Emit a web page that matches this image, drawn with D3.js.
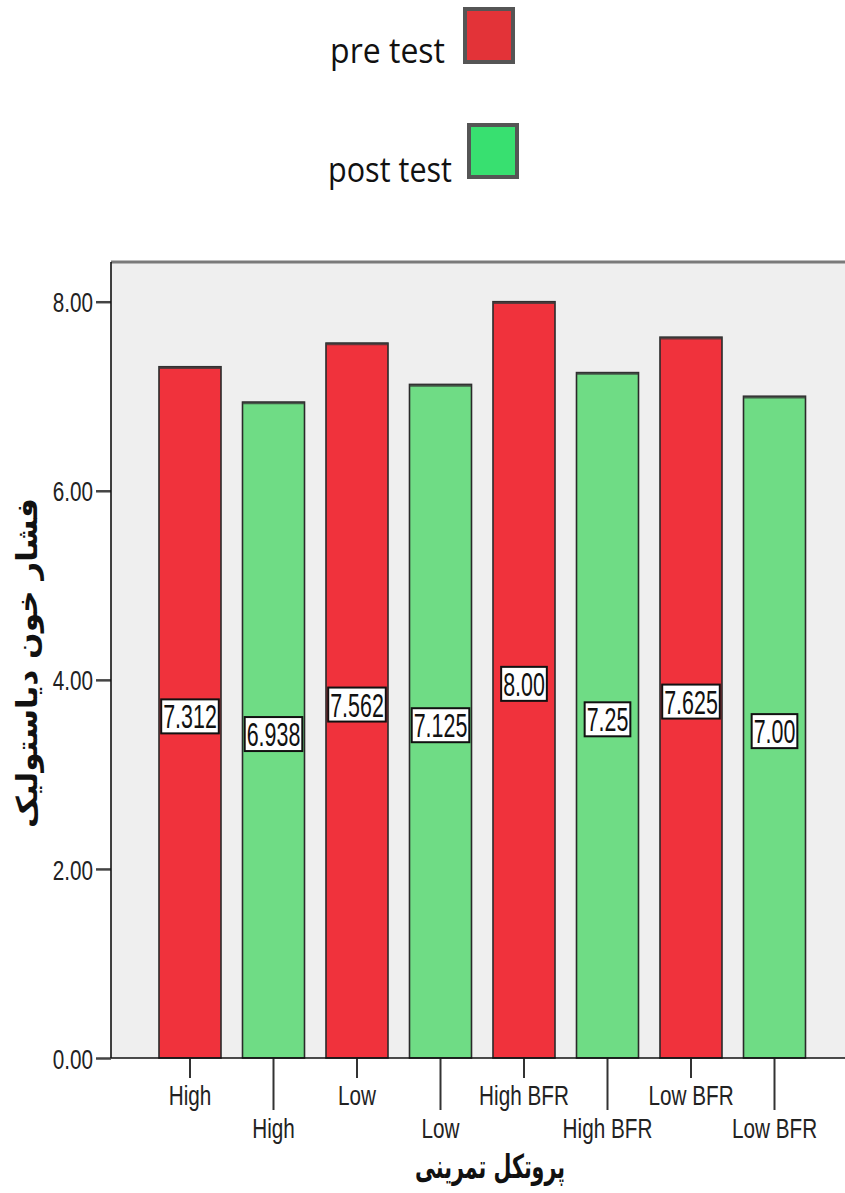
<!DOCTYPE html>
<html>
<head>
<meta charset="utf-8">
<script src="https://cdn.jsdelivr.net/npm/d3@7/dist/d3.min.js"></script>
<style>
  html, body { margin: 0; padding: 0; background: #ffffff; }
  svg { display: block; }
</style>
</head>
<body>
<svg id="chart" width="845" height="1193"></svg>
<script>
// Diastolic blood pressure by training protocol, pre and post test
const protocols = ["High", "Low", "High BFR", "Low BFR"];
const seriesNames = ["pre test", "post test"];
const preTest = [7.312, 7.562, 8.00, 7.625];
const postTest = [6.938, 7.125, 7.25, 7.00];
const preLabels = ["7.312", "7.562", "8.00", "7.625"];
const postLabels = ["6.938", "7.125", "7.25", "7.00"];
const yTicks = [0, 2, 4, 6, 8];
const yTitle = "فشار خون دیاستولیک";
const xTitle = "پروتکل تمرینی";

const colors = { "pre test": "#f0323c", "post test": "#6fdc85" };
const legendColors = { "pre test": "#e33338", "post test": "#38e070" };

// interleave: pre, post for each protocol
const bars = [];
protocols.forEach((p, i) => {
  bars.push({ idx: i * 2, protocol: p, series: "pre test", value: preTest[i], label: preLabels[i] });
  bars.push({ idx: i * 2 + 1, protocol: p, series: "post test", value: postTest[i], label: postLabels[i] });
});

const svg = d3.select("#chart");
const plot = { left: 111, right: 845, top: 262, bottom: 1058 };
const numFont = "'Liberation Sans', Arial, sans-serif";
const numSX = 0.74;

const x = d3.scaleBand()
  .domain(bars.map(d => d.idx))
  .range([148.25, 816.25])
  .paddingInner(0.2575)
  .paddingOuter(0.12875);

const y = d3.scaleLinear().domain([0, 8.42]).range([plot.bottom, plot.top]);

// plot background
svg.append("rect")
  .attr("x", plot.left).attr("y", plot.top)
  .attr("width", plot.right - plot.left).attr("height", plot.bottom - plot.top)
  .attr("fill", "#efefef");

// top frame line
svg.append("line")
  .attr("x1", plot.left).attr("x2", plot.right)
  .attr("y1", plot.top).attr("y2", plot.top)
  .attr("stroke", "#7a7a7a").attr("stroke-width", 3);

// bars
svg.append("g").selectAll("rect")
  .data(bars)
  .join("rect")
  .attr("x", d => x(d.idx))
  .attr("y", d => y(d.value))
  .attr("width", x.bandwidth())
  .attr("height", d => y(0) - y(d.value))
  .attr("fill", d => colors[d.series])
  .attr("stroke", "#2a2a2a")
  .attr("stroke-width", 1.6);

// bar top edges are a bit heavier
svg.append("g").selectAll("line")
  .data(bars)
  .join("line")
  .attr("x1", d => x(d.idx)).attr("x2", d => x(d.idx) + x.bandwidth())
  .attr("y1", d => y(d.value) + 1).attr("y2", d => y(d.value) + 1)
  .attr("stroke", "#3a3a3a").attr("stroke-width", 2.5).attr("opacity", 0.8);

// value labels in white boxes at mid height
const labelSX = 0.63;
const lbl = svg.append("g").selectAll("g")
  .data(bars)
  .join("g")
  .attr("transform", d => `translate(${x(d.idx) + x.bandwidth() / 2},${(y(d.value) + y(0)) / 2 + 4})`);
lbl.each(function(d) {
  const g = d3.select(this);
  const box = g.append("rect");
  const t = g.append("text")
    .attr("text-anchor", "middle")
    .attr("font-family", numFont)
    .attr("font-size", 34)
    .attr("fill", "#111")
    .attr("transform", `scale(${labelSX},1)`)
    .attr("y", 12)
    .text(d.label);
  const w = t.node().getComputedTextLength() * labelSX + 4;
  box.attr("x", -w / 2).attr("y", -17).attr("width", w).attr("height", 34)
    .attr("fill", "#ffffff").attr("stroke", "#111").attr("stroke-width", 2);
});

// y axis
const yAxis = svg.append("g")
  .attr("transform", `translate(${plot.left},0)`)
  .call(d3.axisLeft(y).tickValues(yTicks).tickFormat(d3.format(".2f")).tickSize(15).tickPadding(3));
yAxis.select(".domain").remove();
yAxis.selectAll(".tick line").attr("stroke", "#444").attr("stroke-width", 2.5);
yAxis.selectAll(".tick text")
  .attr("font-family", numFont).attr("font-size", 28).attr("fill", "#222")
  .attr("x", -18 / numSX).attr("dy", "0.36em")
  .attr("transform", `scale(${numSX},1)`);

// x axis: pre test labels on the first row, post test on the second
const fmtX = i => protocols[Math.floor(i / 2)];
const xPre = svg.append("g")
  .attr("transform", `translate(0,${plot.bottom})`)
  .call(d3.axisBottom(x).tickValues(bars.filter(d => d.series === "pre test").map(d => d.idx))
    .tickFormat(fmtX).tickSize(20).tickPadding(7));
const xPost = svg.append("g")
  .attr("transform", `translate(0,${plot.bottom})`)
  .call(d3.axisBottom(x).tickValues(bars.filter(d => d.series === "post test").map(d => d.idx))
    .tickFormat(fmtX).tickSize(52).tickPadding(8));
[xPre, xPost].forEach(g => {
  g.select(".domain").remove();
  g.selectAll(".tick line").attr("stroke", "#333").attr("stroke-width", 2);
  g.selectAll(".tick text")
    .attr("font-family", numFont).attr("font-size", 28).attr("fill", "#222")
    .attr("transform", `scale(${numSX},1)`);
});

// axis lines
svg.append("line")
  .attr("x1", plot.left).attr("x2", plot.left)
  .attr("y1", plot.top).attr("y2", plot.bottom)
  .attr("stroke", "#111").attr("stroke-width", 1.6);
svg.append("line")
  .attr("x1", plot.left).attr("x2", plot.right)
  .attr("y1", plot.bottom).attr("y2", plot.bottom)
  .attr("stroke", "#111").attr("stroke-width", 1.6);

// fit a text element horizontally to a target width
function fitWidth(t, target) {
  const w = t.node().getComputedTextLength();
  return target / w;
}

// y title (rotated)
const yt = svg.append("text")
  .attr("text-anchor", "middle")
  .attr("font-family", "'DejaVu Sans', sans-serif")
  .attr("font-weight", "bold")
  .attr("font-size", 29)
  .attr("fill", "#111")
  .attr("direction", "rtl")
  .text(yTitle);
const ys = fitWidth(yt, 330);
yt.attr("transform", `translate(37,663) rotate(-90) scale(${ys},1)`);

// x title
const xt = svg.append("text")
  .attr("text-anchor", "middle")
  .attr("font-family", "'DejaVu Sans', sans-serif")
  .attr("font-weight", "bold")
  .attr("font-size", 33)
  .attr("fill", "#111")
  .attr("direction", "rtl")
  .text(xTitle);
const xs = fitWidth(xt, 150);
xt.attr("transform", `translate(490,1178) scale(${xs},1)`);

// legend
const legendItems = [
  { name: seriesNames[0], textRight: 445, baseline: 63, sw: { x: 465, y: 9, w: 48, h: 53 }, tw: 115 },
  { name: seriesNames[1], textRight: 452, baseline: 182, sw: { x: 469, y: 125, w: 48, h: 52 }, tw: 124 }
];
legendItems.forEach(item => {
  svg.append("rect")
    .attr("x", item.sw.x).attr("y", item.sw.y)
    .attr("width", item.sw.w).attr("height", item.sw.h)
    .attr("fill", legendColors[item.name])
    .attr("stroke", "#555").attr("stroke-width", 4);
  const t = svg.append("text")
    .attr("text-anchor", "end")
    .attr("font-family", "'Open Sans', 'Noto Sans', sans-serif")
    .attr("font-size", 34)
    .attr("fill", "#111")
    .text(item.name);
  const s = fitWidth(t, item.tw);
  t.attr("transform", `translate(${item.textRight},${item.baseline}) scale(${s},1)`);
});
</script>
</body>
</html>
